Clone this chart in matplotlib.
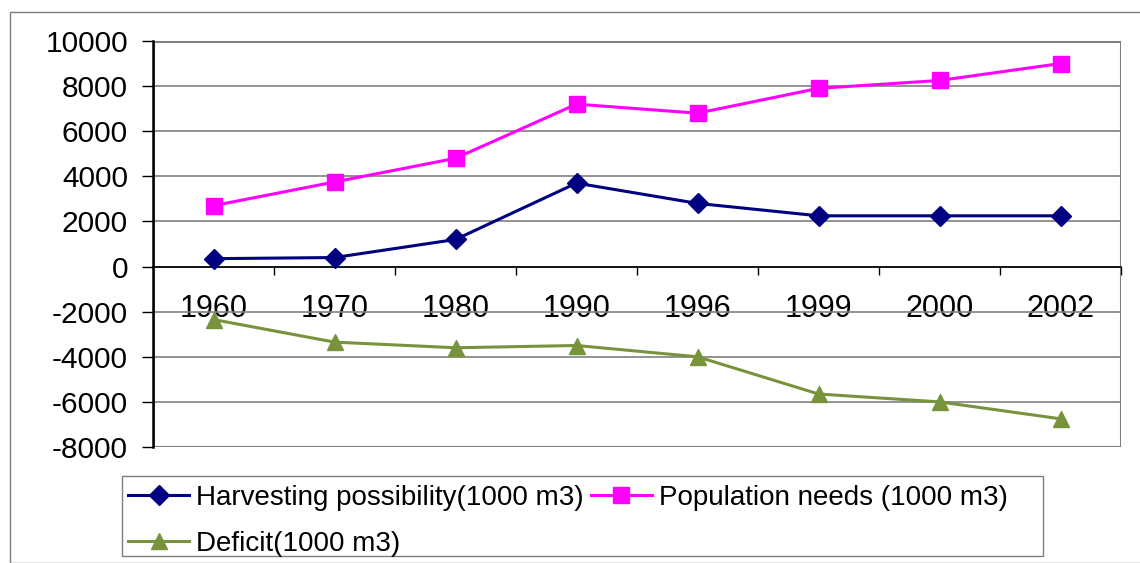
import matplotlib
matplotlib.use("Agg")
import matplotlib.pyplot as plt
from matplotlib.patches import Rectangle
from matplotlib.ticker import FixedLocator

plt.rcParams['font.family'] = ['Liberation Sans', 'DejaVu Sans']
plt.rcParams['axes.unicode_minus'] = False

years = ["1960", "1970", "1980", "1990", "1996", "1999", "2000", "2002"]
harvesting = [350, 400, 1200, 3700, 2800, 2250, 2250, 2250]
population = [2700, 3750, 4800, 7200, 6800, 7900, 8250, 9000]
deficit = [-2350, -3350, -3600, -3500, -4000, -5650, -6000, -6750]

W, H = 1140, 563
fig = plt.figure(figsize=(W / 100, H / 100), dpi=100)

# outer chart frame
fig.patches.append(Rectangle((10 / W, 0), 1.2, 1 - 12 / H, transform=fig.transFigure,
                             fill=False, edgecolor="#7f7f7f", linewidth=1.0))

ax = fig.add_axes([153 / W, 1 - 447 / H, (1121 - 153) / W, (447 - 41) / H])

x = list(range(len(years)))
ax.set_xlim(-0.5, len(years) - 0.5)
ax.set_ylim(-8000, 10000)

# horizontal gridlines
ax.set_yticks(range(-8000, 10001, 2000))
ax.grid(axis="y", color="#808080", linewidth=1.2)
ax.set_axisbelow(True)

# plot-area border
ax.add_patch(Rectangle((0, 0), 1, 1, transform=ax.transAxes, fill=False,
                       edgecolor="#808080", linewidth=2.2, zorder=1))

ax.spines["top"].set_visible(False)
ax.spines["right"].set_visible(False)
ax.spines["bottom"].set_position(("data", 0))
ax.spines["bottom"].set_color("black")
ax.spines["bottom"].set_linewidth(1.2)
ax.spines["left"].set_color("black")
ax.spines["left"].set_linewidth(1.8)

ax.set_xticks(x)
ax.set_xticklabels(years)
ax.xaxis.set_minor_locator(FixedLocator([i + 0.5 for i in x]))
ax.tick_params(axis="x", which="major", length=0, pad=19.5, labelsize=22)
ax.tick_params(axis="x", which="minor", length=6, width=1, color="black", direction="out")
ax.tick_params(axis="y", length=8, width=1, color="black", direction="out", pad=10,
               labelsize=21.5)

h1, = ax.plot(x, harvesting, color="#000080", linewidth=2.2, marker="D",
              markersize=10, label="Harvesting possibility(1000 m3)", zorder=3)
h2, = ax.plot(x, population, color="#FF00FF", linewidth=2.2, marker="s",
              markersize=11.5, label="Population needs (1000 m3)", zorder=3)
h3, = ax.plot(x, deficit, color="#77933C", linewidth=2.2, marker="^",
              markersize=12, label="Deficit(1000 m3)", zorder=3)

# legend box
fig.patches.append(Rectangle((122 / W, 1 - 556 / H), (1043 - 122) / W, (556 - 476) / H,
                             transform=fig.transFigure, fill=False,
                             edgecolor="#7f7f7f", linewidth=1.0))
fig.legend([h1, h3, h2], [h1.get_label(), h3.get_label(), h2.get_label()],
           ncol=2, loc="upper left", bbox_to_anchor=(128 / W, 1 - 485 / H),
           fontsize=20, frameon=False, handlelength=2.2, handletextpad=0.25,
           columnspacing=0.25, borderaxespad=0, labelspacing=0.71, borderpad=0)

fig.savefig("out.png", dpi=100)
